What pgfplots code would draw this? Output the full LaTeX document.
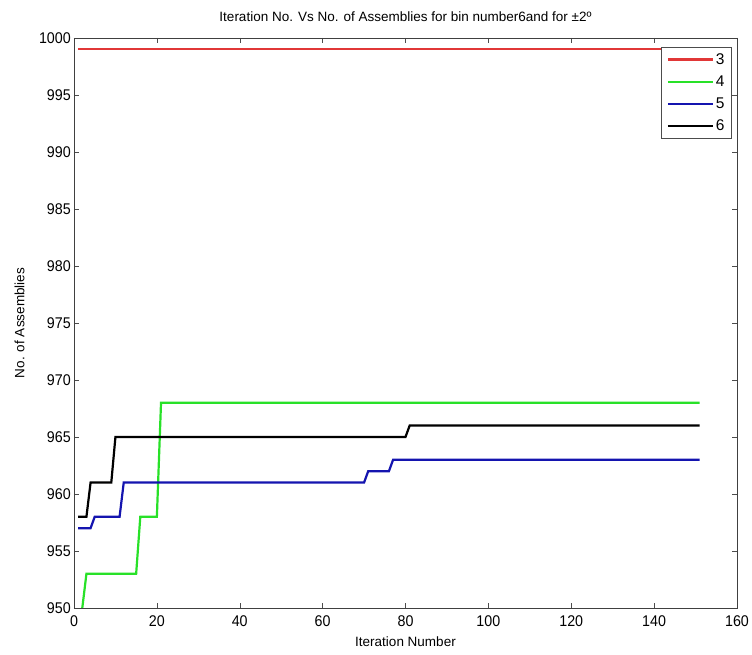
\documentclass[border=0pt]{standalone}
\usepackage{pgfplots}
\pgfplotsset{compat=1.18}
\usepackage{fontspec}
\setmainfont{Liberation Sans}
\begin{document}
\begin{tikzpicture}
\begin{axis}[
  scale only axis,
  width=663pt, height=570pt,
  xmin=0, xmax=160, ymin=950, ymax=1000,
  xtick={0,20,...,160},
  ytick={950,955,...,1000},
  tick align=inside,
  tick pos=both,
  major tick length=5pt,
  tick style={black!70, line width=0.5pt},
  axis line style={black!75, line width=0.8pt},
  /pgf/number format/assume math mode=true,
  /pgf/number format/1000 sep={},
  tick label style={font=\fontsize{15.5}{18}\selectfont, xscale=0.92},
  xticklabel style={yshift=-4pt},
  title={Iteration No. Vs No. of Assemblies for bin number6and for ±2º},
  title style={font=\fontsize{13.5}{16}\selectfont, yshift=7pt},
  xlabel={Iteration Number},
  ylabel={No. of Assemblies},
  label style={font=\fontsize{13.5}{16}\selectfont},
  xlabel style={yshift=-3pt},
  ylabel style={yshift=8pt},
  legend style={at={(0.992,0.984)}, anchor=north east, draw=black!70, fill=white,
    font=\fontsize{15.5}{18}\selectfont, row sep=6pt, inner xsep=5pt, inner ysep=4pt},
  legend cell align=left,
  legend image code/.code={\draw[#1, line width=2.2pt] (0pt,0pt) -- (45pt,0pt);},
  clip=true,
]
\addplot[color={rgb,255:red,225;green,55;blue,55}, line width=2.2pt] coordinates {(1,999) (151,999)};
\addlegendentry{3}
\addplot[color={rgb,255:red,40;green,225;blue,40}, line width=2.2pt] coordinates {(1,947) (2,950) (3,953) (15,953) (16,958) (20,958) (21,968) (151,968)};
\addlegendentry{4}
\addplot[color={rgb,255:red,20;green,20;blue,175}, line width=2.2pt] coordinates {(1,957) (4,957) (5,958) (11,958) (12,961) (70,961) (71,962) (76,962) (77,963) (151,963)};
\addlegendentry{5}
\addplot[color=black, line width=2.2pt] coordinates {(1,958) (3,958) (4,961) (9,961) (10,965) (80,965) (81,966) (151,966)};
\addlegendentry{6}
\end{axis}
\pgfresetboundingbox
\useasboundingbox (-74pt,-47pt) rectangle (678pt,608pt);
\end{tikzpicture}
\end{document}
